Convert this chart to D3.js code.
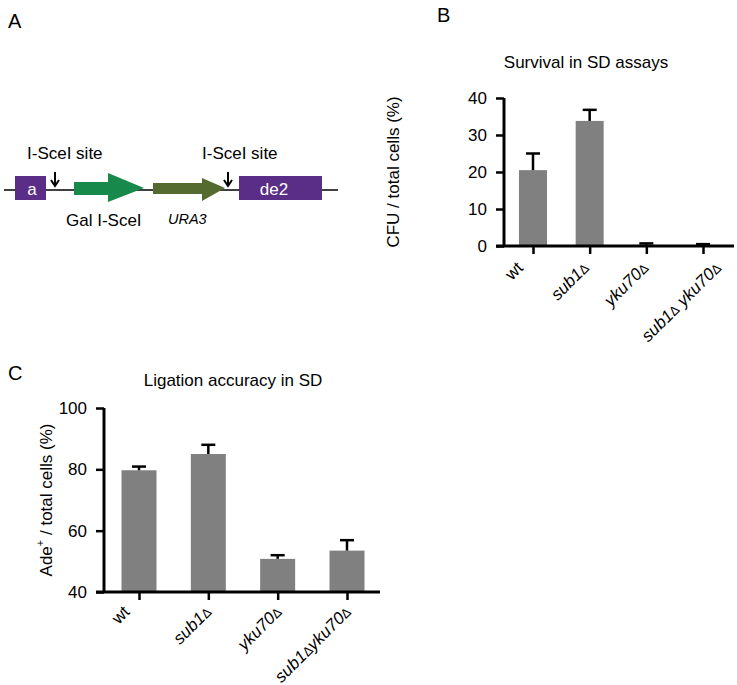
<!DOCTYPE html>
<html><head><meta charset="utf-8">
<script src="https://cdn.jsdelivr.net/npm/d3@7"></script>
<style>body{margin:0;background:#fff}svg{display:block;font-family:Arial,"Liberation Sans",sans-serif}</style>
</head><body><svg id="c" width="737" height="685"></svg>
<script>
// Panel B data
const catsB = ["wt", "sub1Δ", "yku70Δ", "sub1Δ yku70Δ"];
const valsB = [20.5, 33.8, 0.3, 0.2];
const errB = [4.5, 3, 0.4, 0.3];
const ticksB = [0, 10, 20, 30, 40];
// Panel C data
const catsC = ["wt", "sub1Δ", "yku70Δ", "sub1Δyku70Δ"];
const valsC = [79.7, 85, 50.8, 53.5];
const errC = [1.2, 3, 1.2, 3.4];
const ticksC = [40, 60, 80, 100];

const svg = d3.select("#c");
const barColor = "#808080";
const FS = 17;

function drawBar(g, cats, vals, errs, ticks, x0, x1, yBase, yTop, dom, bw, pad0) {
  const x = d3.scalePoint().domain(cats).range([x0 + pad0.l, x1 - pad0.r]);
  const y = d3.scaleLinear().domain(dom).range([yBase, yTop]);
  g.selectAll("rect.bar").data(cats).enter().append("rect")
    .attr("x", d => x(d) - bw / 2).attr("width", bw)
    .attr("y", (d, i) => y(vals[i])).attr("height", (d, i) => yBase - y(vals[i]))
    .attr("fill", barColor);
  cats.forEach((c, i) => {
    const cx = x(c), yt = y(vals[i] + errs[i]);
    g.append("line").attr("x1", cx).attr("x2", cx).attr("y1", y(vals[i])).attr("y2", yt).attr("stroke", "#000").attr("stroke-width", 2.5);
    g.append("line").attr("x1", cx - 7).attr("x2", cx + 7).attr("y1", yt).attr("y2", yt).attr("stroke", "#000").attr("stroke-width", 2.5);
  });
  const ya = g.append("g").attr("transform", `translate(${x0},0)`)
    .call(d3.axisLeft(y).tickValues(ticks).tickSize(8).tickPadding(9));
  ya.select(".domain").attr("stroke-width", 3).attr("d", `M0,${yBase}V${yTop}`);
  ya.selectAll(".tick line").attr("stroke-width", 2.5);
  ya.selectAll("text").attr("font-size", FS).attr("fill", "#000").attr("font-family", "Arial, 'Liberation Sans', sans-serif");
  const xa = g.append("g").attr("transform", `translate(0,${yBase})`)
    .call(d3.axisBottom(x).tickSize(8).tickFormat(""));
  xa.select(".domain").attr("stroke-width", 3).attr("d", `M${x0 - 8},0H${x1}`);
  xa.selectAll(".tick line").attr("stroke-width", 2.5);
  return x;
}

function catLabels(g, cats, x, yBase, dxFn, dy) {
  cats.forEach((c) => {
    const t = g.append("text")
      .attr("text-anchor", "end").attr("font-size", FS).attr("fill", "#000");
    if (c === "wt") { t.text(c); }
    else {
      const parts = c.split("Δ");
      parts.forEach((p, j) => {
        if (p.length) t.append("tspan").attr("font-style", "italic").text(p);
        if (j < parts.length - 1) t.append("tspan").attr("font-size", 13).text("Δ");
      });
    }
    const L = t.node().getComputedTextLength();
    t.attr("transform", `translate(${x(c) + dxFn(L)},${yBase + dy}) rotate(-45)`);
  });
}

// ---------- Panel A ----------
const gA = svg.append("g");
gA.append("text").attr("x", 8).attr("y", 28).attr("font-size", 20).text("A");
gA.append("line").attr("x1", 4).attr("x2", 338).attr("y1", 190).attr("y2", 190).attr("stroke", "#000").attr("stroke-width", 1.5);
const purple = "#5a2d87";
gA.append("rect").attr("x", 15).attr("y", 176).attr("width", 31).attr("height", 24).attr("fill", purple);
gA.append("text").attr("x", 32).attr("y", 195).attr("text-anchor", "middle").attr("fill", "#fff").attr("font-size", FS).text("a");
gA.append("rect").attr("x", 239).attr("y", 176).attr("width", 83).attr("height", 24).attr("fill", purple);
gA.append("text").attr("x", 274).attr("y", 195).attr("text-anchor", "middle").attr("fill", "#fff").attr("font-size", FS).text("de2");
gA.append("path").attr("d", "M74,182H108V173L144,188L108,202V195H74Z").attr("fill", "#17894a");
gA.append("path").attr("d", "M153,183H202V178L225,188L202,201V194H153Z").attr("fill", "#556a2f");
[55, 228].forEach(ax => {
  gA.append("line").attr("x1", ax).attr("x2", ax).attr("y1", 172).attr("y2", 185).attr("stroke", "#000").attr("stroke-width", 2);
  gA.append("path").attr("d", `M${ax - 4},180L${ax},186L${ax + 4},180`).attr("fill", "none").attr("stroke", "#000").attr("stroke-width", 2);
});
gA.append("text").attr("x", 27).attr("y", 159).attr("font-size", FS).text("I-SceI site");
gA.append("text").attr("x", 202).attr("y", 159).attr("font-size", FS).text("I-SceI site");
gA.append("text").attr("x", 66).attr("y", 226).attr("font-size", FS).text("Gal I-SceI");
gA.append("text").attr("x", 168).attr("y", 224).attr("font-size", 14.5).attr("font-style", "italic").text("URA3");

// ---------- Panel B ----------
const gB = svg.append("g");
gB.append("text").attr("x", 437).attr("y", 22).attr("font-size", 20).text("B");
gB.append("text").attr("x", 586).attr("y", 68).attr("text-anchor", "middle").attr("font-size", FS).text("Survival in SD assays");
const xB = drawBar(gB, catsB, valsB, errB, ticksB, 504, 734, 246, 98, [0, 40], 28, {l: 29, r: 31});
catLabels(gB, catsB, xB, 246, L => 1 + 0.32 * (L - 48), 23);
gB.append("text").attr("transform", "translate(399,172) rotate(-90)").attr("text-anchor", "middle").attr("font-size", FS).text("CFU / total cells (%)");

// ---------- Panel C ----------
const gC = svg.append("g");
gC.append("text").attr("x", 8).attr("y", 380).attr("font-size", 20).text("C");
gC.append("text").attr("x", 233).attr("y", 386).attr("text-anchor", "middle").attr("font-size", FS).text("Ligation accuracy in SD");
const xC = drawBar(gC, catsC, valsC, errC, ticksC, 104, 380, 592, 408, [40, 100], 35, {l: 35, r: 33});
catLabels(gC, catsC, xC, 592, L => 5 - Math.max(0, 48 - L) * 0.43, 21);
const yl = gC.append("text").attr("transform", "translate(52,500) rotate(-90)").attr("text-anchor", "middle").attr("font-size", FS);
yl.append("tspan").text("Ade");
yl.append("tspan").attr("font-size", 11).attr("dy", -8).text("+");
yl.append("tspan").attr("dy", 8).text(" / total cells (%)");
</script></body></html>
